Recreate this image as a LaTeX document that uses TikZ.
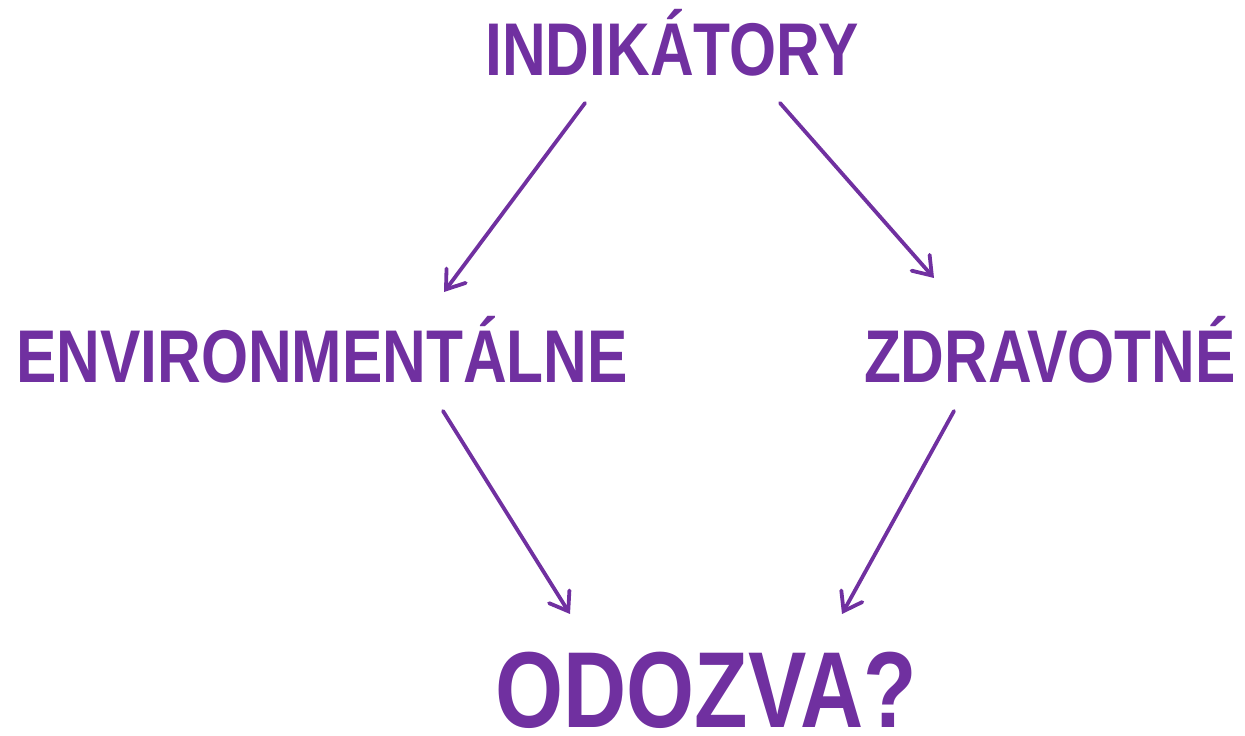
\documentclass[tikz,border=0pt]{standalone}
\usepackage{fontspec}
\usepackage{tikz}
\usetikzlibrary{arrows.meta,positioning}
\newfontfamily\narrowfont{Liberation Sans Bold}[FakeStretch=0.81]
\definecolor{violet}{RGB}{112, 48, 160}
\tikzstyle{tword} = [draw=none, fill=none, inner sep=0pt, anchor=base, text=violet, font=\narrowfont\fontsize{74.7}{80}\selectfont]
\tikzstyle{bigword} = [tword, font=\narrowfont\fontsize{108}{115}\selectfont]
\tikzstyle{tarrow} = [draw=violet, line width=3.8pt, line cap=round, -{Straight Barb[length=17pt, width=24pt, line cap=round]}]

\begin{document}
\begin{tikzpicture}[x=1pt, y=1pt]
\useasboundingbox (0,0) rectangle (1245,736);

% words =============================
\node[tword] (ind) at (672,660) {INDIKÁTORY};
\node[tword] (env) at (322,353) {ENVIRONMENTÁLNE};
\node[tword] (zdr) at (1050,353) {ZDRAVOTNÉ};
\node[bigword] (odz) at (706,8) {ODOZVA?};

% arrows
\draw[tarrow] ([shift={(-87,-27)}]ind.base) -- ([shift={(122,91)}]env.base);
\draw[tarrow] ([shift={(108,-27)}]ind.base) -- ([shift={(-116,105)}]zdr.base);
\draw[tarrow] ([shift={(121,-28)}]env.base) -- ([shift={(-136,114)}]odz.base);
\draw[tarrow] ([shift={(-96,-28)}]zdr.base) -- ([shift={(136,114)}]odz.base);

\end{tikzpicture}
\end{document}
